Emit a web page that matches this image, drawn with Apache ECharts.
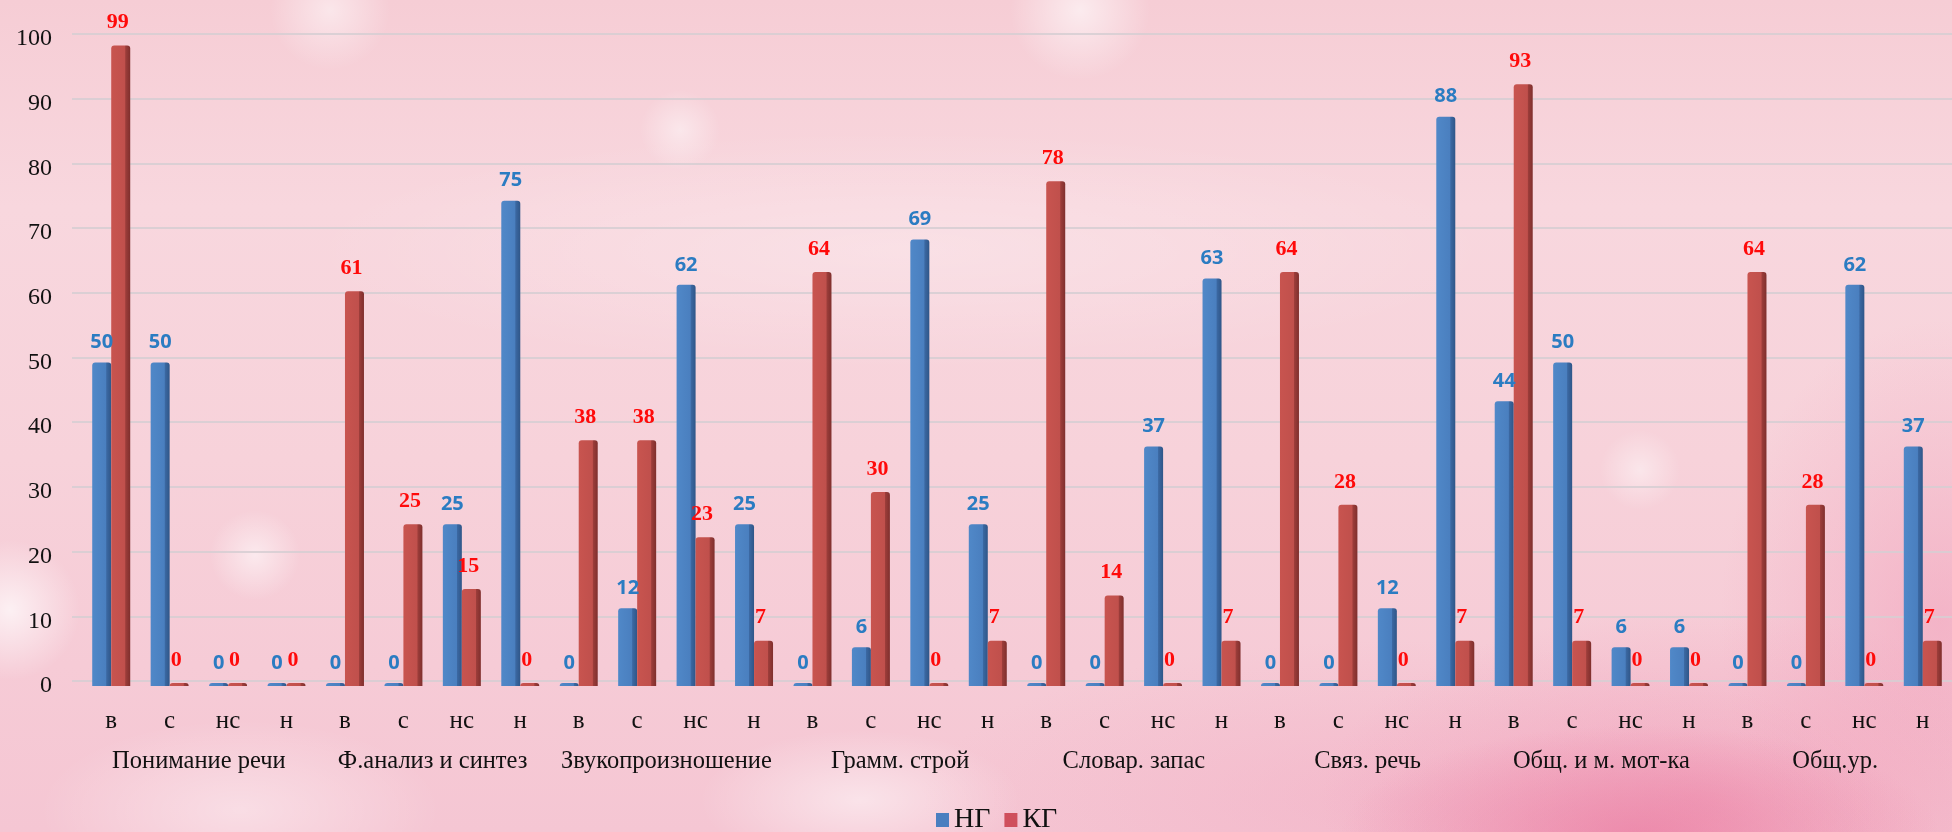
<!DOCTYPE html>
<html>
<head>
<meta charset="utf-8">
<script src="https://cdn.jsdelivr.net/npm/echarts@6/dist/echarts.min.js"></script>
<style>
html,body{margin:0;padding:0;width:1952px;height:832px;overflow:hidden;}
#bg{position:absolute;left:0;top:0;width:1952px;height:832px;
background:
 radial-gradient(circle at 255px 555px, rgba(255,255,255,0.55) 0, rgba(255,255,255,0) 45px),
 radial-gradient(circle at 10px 610px, rgba(255,255,255,0.7) 0, rgba(255,255,255,0) 70px),
 radial-gradient(circle at 680px 130px, rgba(255,255,255,0.45) 0, rgba(255,255,255,0) 40px),
 radial-gradient(circle at 1080px 10px, rgba(255,255,255,0.6) 0, rgba(255,255,255,0) 70px),
 radial-gradient(circle at 330px 10px, rgba(255,255,255,0.5) 0, rgba(255,255,255,0) 60px),
 radial-gradient(circle at 1640px 470px, rgba(255,255,255,0.45) 0, rgba(255,255,255,0) 40px),
 radial-gradient(ellipse 160px 70px at 860px 800px, rgba(255,255,255,0.5) 0, rgba(255,255,255,0) 100%),
 radial-gradient(ellipse 200px 90px at 240px 810px, rgba(255,255,255,0.4) 0, rgba(255,255,255,0) 100%),
 radial-gradient(ellipse 600px 120px at 900px 250px, rgba(255,255,255,0.25) 0, rgba(255,255,255,0) 100%),
 radial-gradient(ellipse 300px 110px at 1640px 835px, rgba(232,110,152,0.55) 0, rgba(232,110,152,0) 100%),
 radial-gradient(ellipse 380px 190px at 1700px 800px, rgba(238,135,170,0.4) 0, rgba(238,135,170,0) 100%),
 radial-gradient(ellipse 220px 300px at 1940px 620px, rgba(240,150,180,0.45) 0, rgba(240,150,180,0) 100%),
 radial-gradient(ellipse 480px 160px at 1400px 800px, rgba(240,160,188,0.35) 0, rgba(240,160,188,0) 100%),
 linear-gradient(180deg, #f6cdd5 0%, #f8d7de 25%, #f7d2da 55%, #f6cbd6 80%, #f5c6d3 100%);
}
#chart{position:absolute;left:0;top:0;width:1952px;height:832px;}
</style>
</head>
<body>
<div id="bg"></div>
<div id="chart"></div>
<script>
// ---- data ----
const groups = ['Понимание речи', 'Ф.анализ и синтез', 'Звукопроизношение', 'Грамм. строй',
                'Словар. запас', 'Связ. речь', 'Общ. и м. мот-ка', 'Общ.ур.'];
const subcats = ['в', 'с', 'нс', 'н'];
const seriesNames = ['НГ', 'КГ'];
const ngValues = [50, 50, 0, 0,   0, 0, 25, 75,   0, 12, 62, 25,   0, 6, 69, 25,
                  0, 0, 37, 63,   0, 0, 12, 88,   44, 50, 6, 6,    0, 0, 62, 37];
const kgValues = [99, 0, 0, 0,   61, 25, 15, 0,   38, 38, 23, 7,   64, 30, 0, 7,
                  78, 14, 0, 7,  64, 28, 0, 7,    93, 7, 0, 0,     64, 28, 0, 7];
const yMin = 0, yMax = 100, yStep = 10;

// categories (unique keys, shown as sub-category names)
const categories = [];
groups.forEach((g, gi) => subcats.forEach(s => categories.push(gi + '|' + s)));

const chart = echarts.init(document.getElementById('chart'), null, {renderer: 'canvas'});

const serif = 'Liberation Serif, Times New Roman, serif';
const G = echarts.graphic;
const blueFill = new G.LinearGradient(0, 0, 1, 0, [
  {offset: 0, color: '#5088c8'}, {offset: 0.72, color: '#4a7fbf'},
  {offset: 0.76, color: '#3b68a2'}, {offset: 1, color: '#2f5688'}]);
const redFill = new G.LinearGradient(0, 0, 1, 0, [
  {offset: 0, color: '#c8544f'}, {offset: 0.72, color: '#c0504c'},
  {offset: 0.76, color: '#9c3d3a'}, {offset: 1, color: '#7f2f2d'}]);

chart.setOption({
  animation: false,
  grid: [
    {left: 82, right: -4, top: 39, bottom: 146},
    {left: 72, right: -4, top: 34, bottom: 151}
  ],
  legend: {
    data: [{name: seriesNames[0], itemStyle: {color: '#4a7fc0'}},
           {name: seriesNames[1], itemStyle: {color: '#cf4f5c'}}],
    left: 936, top: 806, padding: 0,
    itemWidth: 13, itemHeight: 14, itemGap: 14,
    icon: 'rect',
    textStyle: {fontFamily: serif, fontSize: 28, color: '#111'}
  },
  xAxis: [
    {
      type: 'category', gridIndex: 0, data: categories,
      axisLine: {show: false}, axisTick: {show: false},
      axisLabel: {fontFamily: serif, fontSize: 25, color: '#111', margin: 23, interval: 0,
                  formatter: v => v.split('|')[1]}
    },
    {
      type: 'category', gridIndex: 0, data: groups, position: 'bottom',
      axisLine: {show: false}, axisTick: {show: false},
      axisLabel: {fontFamily: serif, fontSize: 24.5, color: '#111', margin: 63, interval: 0}
    },
    {
      type: 'category', gridIndex: 1, data: categories, show: false
    }
  ],
  yAxis: [
    {
      type: 'value', gridIndex: 0, min: yMin, max: yMax, interval: yStep,
      axisLine: {show: false}, axisTick: {show: false}, splitLine: {show: false},
      axisLabel: {fontFamily: serif, fontSize: 24, color: '#111', margin: 30, padding: [9, 0, 0, 0]}
    },
    {
      type: 'value', gridIndex: 1, min: yMin, max: yMax, interval: yStep,
      axisLine: {show: false}, axisTick: {show: false}, axisLabel: {show: false},
      splitLine: {show: true, lineStyle: {color: 'rgba(214,206,210,0.85)', width: 2}}
    }
  ],
  series: [
    {
      name: seriesNames[0], type: 'bar', xAxisIndex: 0, yAxisIndex: 0,
      data: ngValues, barWidth: 19, barGap: '0%', barMinHeight: 3,
      itemStyle: {color: blueFill, borderRadius: [3, 3, 0, 0]},
      label: {show: true, position: 'top', distance: 10,
              fontFamily: 'Open Sans, Lato, sans-serif', fontWeight: 'bold', fontSize: 20, color: '#2b7cc2'}
    },
    {
      name: seriesNames[1], type: 'bar', xAxisIndex: 0, yAxisIndex: 0,
      data: kgValues, barWidth: 19, barGap: '0%', barMinHeight: 3,
      itemStyle: {color: redFill, borderRadius: [3, 3, 0, 0]},
      label: {show: true, position: 'top', distance: 12, offset: [-3, 0],
              fontFamily: serif, fontWeight: 'bold', fontSize: 22, color: '#ff0a0a'}
    }
  ]
});
</script>
</body>
</html>
